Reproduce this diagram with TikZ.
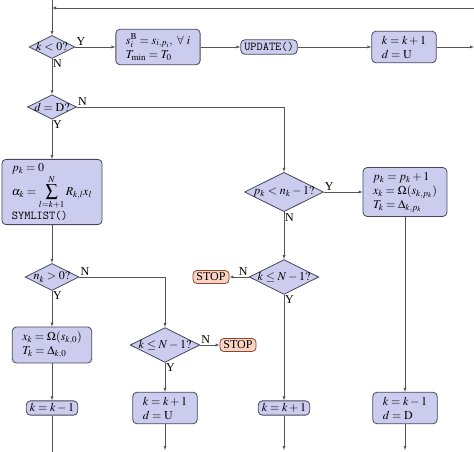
\documentclass[tikz,border=0pt]{standalone}
\usepackage{mathptmx}
\usepackage{fontspec}
\setmainfont{Liberation Serif}
\usetikzlibrary{shapes.geometric}

\definecolor{boxfill}{RGB}{204,204,238}
\definecolor{boxdraw}{RGB}{70,70,95}
\definecolor{stopfill}{RGB}{250,212,195}
\definecolor{stopdraw}{RGB}{140,70,50}
\definecolor{flowline}{RGB}{85,85,85}

\tikzset{
	block/.style={draw=boxdraw,fill=boxfill,thick,rounded corners=4pt,align=left,inner xsep=10pt,inner ysep=4.5pt},
	smallblock/.style={block,inner xsep=3.5pt,inner ysep=2.5pt},
	stopblock/.style={smallblock,draw=stopdraw,fill=stopfill},
	decision/.style={draw=boxdraw,fill=boxfill,thick,diamond,aspect=2,inner sep=-0.5pt},
	flow/.style={draw=flowline,->},
	answer/.style={inner sep=1pt}
}

\begin{document}
\begin{tikzpicture}[x=1pt,y=-1pt,>=latex,font=\fontsize{12}{14}\selectfont]
	\useasboundingbox (0,0) rectangle (474,452);

	\begin{scope}
		\node[decision] (neg) at (52,47) {$k<0?$};
		\node[block] (init) at (158,47) {$s_i^{\mathrm{B}}=s_{i,p_i},\ \forall\ i$\\$T_{\min}=T_0$};
		\node[smallblock] (update) at (269,47) {\texttt{UPDATE()}};
		\node[block] (up) at (404,47) {$k=k+1$\\$d=\mathrm{U}$};
	\end{scope}

	\begin{scope}
		\node[decision] (dir) at (52,107) {$d=\mathrm{D}?$};
		\node[block] (start) at (52,192) {$p_k=0$\\$\displaystyle\alpha_k=\sum_{l=k+1}^{N}R_{k,l}x_l$\\\texttt{SYMLIST()}};
		\node[decision] (haschild) at (52,277) {$n_k>0?$};
		\node[block] (first) at (52,345) {$x_k=\Omega(s_{k,0})$\\$T_k=\Delta_{k,0}$};
		\node[smallblock] (back) at (52,408) {$k=k-1$};
	\end{scope}

	\begin{scope}
		\node[decision] (lastB) at (165,345) {$k\le N-1?$};
		\node[stopblock] (stopB) at (238,345) {STOP};
		\node[block] (fwdB) at (165,408) {$k=k+1$\\$d=\mathrm{U}$};
	\end{scope}

	\begin{scope}
		\node[decision] (more) at (284,192) {$p_k<n_k-1?$};
		\node[decision] (lastA) at (284,277) {$k\le N-1?$};
		\node[stopblock] (stopA) at (211,277) {STOP};
		\node[smallblock] (fwdA) at (284,408) {$k=k+1$};
		\node[block] (next) at (405,192) {$p_k=p_k+1$\\$x_k=\Omega(s_{k,p_k})$\\$T_k=\Delta_{k,p_k}$};
		\node[block] (down) at (405,408) {$k=k-1$\\$d=\mathrm{D}$};
	\end{scope}

	\coordinate (top) at (52,0);
	\coordinate (loopin) at (474,8);
	\coordinate (loopjoin) at (52,8);
	\coordinate (exitR) at (474,47);
	\coordinate (exitA) at (52,452);
	\coordinate (exitB) at (165,450);
	\coordinate (exitC) at (284,450);
	\coordinate (exitD) at (405,450);

	\draw[flow] (top) -- (neg);
	\draw[flow] (loopin) -- (loopjoin);
	\draw[flow] (neg.east) node[answer,above right] (negY) {Y} -- (init);
	\draw[flow] (init) -- (update);
	\draw[flow] (update) -- (up);
	\draw[flow] (up) -- (exitR);
	\draw[flow] (neg.south) node[answer,below right] (negN) {N} -- (dir);

	\draw[flow] (dir.east) node[answer,above right] (dirN) {N} -| (more);
	\draw[flow] (dir.south) node[answer,below right] (dirY) {Y} -- (start);
	\draw[flow] (start) -- (haschild);
	\draw[flow] (haschild.east) node[answer,above right] (hasN) {N} -| (lastB);
	\draw[flow] (haschild.south) node[answer,below right] (hasY) {Y} -- (first);
	\draw[flow] (first) -- (back);
	\draw[draw=flowline] (back) -- (exitA);

	\draw[flow] (lastB.east) node[answer,above right] (lastBN) {N} -- (stopB);
	\draw[flow] (lastB.south) node[answer,below right] (lastBY) {Y} -- (fwdB);
	\draw[flow] (fwdB) -- (exitB);

	\draw[flow] (more.east) node[answer,above right] (moreY) {Y} -- (next);
	\draw[flow] (more.south) node[answer,below right] (moreN) {N} -- (lastA);
	\draw[flow] (lastA.west) node[answer,above left] (lastAN) {N} -- (stopA);
	\draw[flow] (lastA.south) node[answer,below right] (lastAY) {Y} -- (fwdA);
	\draw[flow] (fwdA) -- (exitC);
	\draw[flow] (next) -- (down);
	\draw[flow] (down) -- (exitD);
\end{tikzpicture}
\end{document}
